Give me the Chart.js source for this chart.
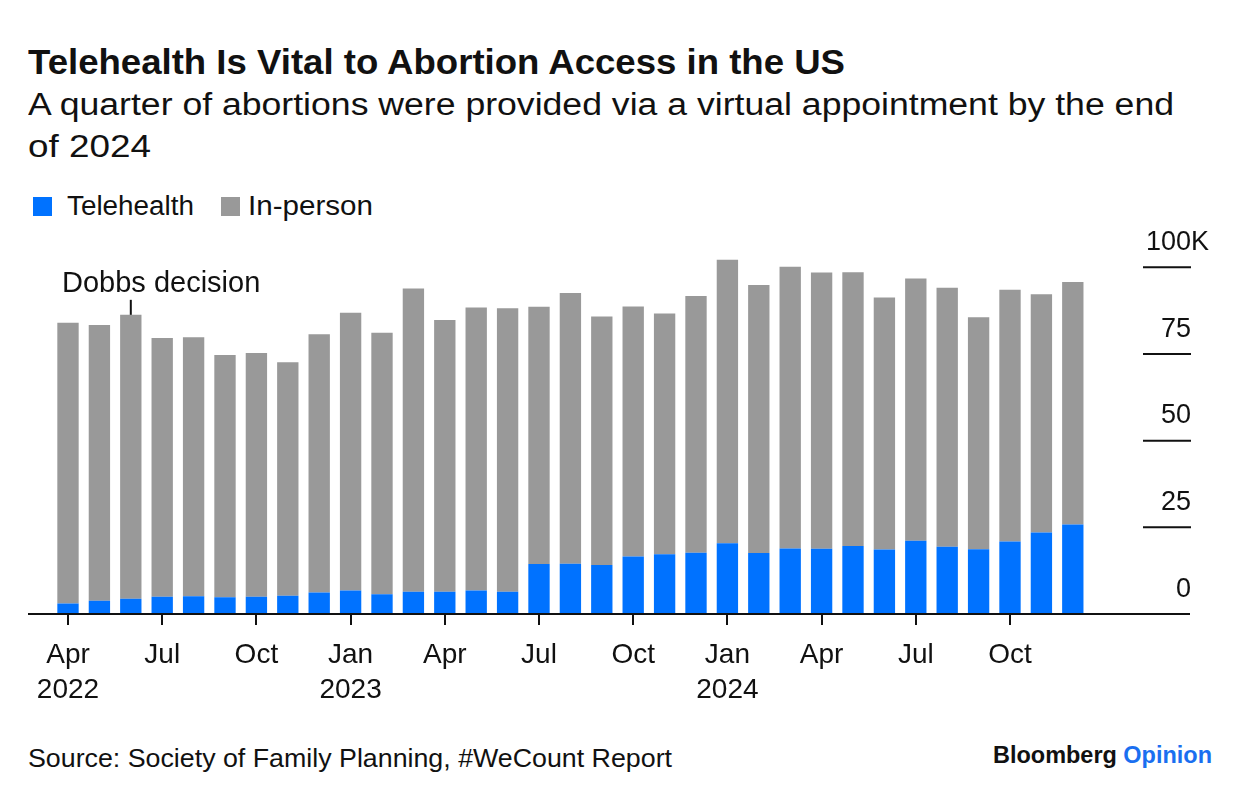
<!DOCTYPE html>
<html>
<head>
<meta charset="utf-8">
<script src="https://cdn.jsdelivr.net/npm/chart.js@4.4.1/dist/chart.umd.min.js"></script>
<style>
  html, body { margin: 0; padding: 0; background: #fff; }
  body { width: 1240px; height: 800px; position: relative; overflow: hidden;
         font-family: "Liberation Sans", Arial, sans-serif; color: #111; }
  .t { position: absolute; white-space: nowrap; transform-origin: 0 0; display: inline-block; }
  #title { left: 28px; top: 44px; font-size: 35px; line-height: 35px; font-weight: bold; }
  .sub { left: 28px; font-size: 31px; line-height: 42px; }
  .leg { top: 193px; font-size: 27px; line-height: 27px; }
  .sq { position: absolute; top: 197px; width: 19px; height: 19px; }
  #source { left: 28px; top: 745px; font-size: 26px; line-height: 26px; }
  #brand { left: 993px; top: 744px; font-size: 23px; line-height: 23px; font-weight: bold; }
  #brand span { color: #1a6ff0; }
  #wrap { position: absolute; left: 0; top: 230px; width: 1240px; height: 490px; }
</style>
</head>
<body>
<div id="title" class="t" data-w="817">Telehealth Is Vital to Abortion Access in the US</div>
<div class="t sub" style="top:84px" data-w="1146">A quarter of abortions were provided via a virtual appointment by the end</div>
<div class="t sub" style="top:126px" data-w="123">of 2024</div>

<div class="sq" style="left:33px;background:#0072ff"></div>
<div class="t leg" style="left:67px" data-w="127">Telehealth</div>
<div class="sq" style="left:221px;background:#999"></div>
<div class="t leg" style="left:248px" data-w="125">In-person</div>

<div id="wrap"><canvas id="chart"></canvas></div>

<div id="source" class="t" data-w="644">Source: Society of Family Planning, #WeCount Report</div>
<div id="brand" class="t" data-w="219">Bloomberg <span>Opinion</span></div>

<script>
// monthly abortions, thousands
const months = [
  'Apr 2022', 'May 2022', 'Jun 2022', 'Jul 2022', 'Aug 2022', 'Sep 2022', 'Oct 2022', 'Nov 2022', 'Dec 2022',
  'Jan 2023', 'Feb 2023', 'Mar 2023', 'Apr 2023', 'May 2023', 'Jun 2023', 'Jul 2023', 'Aug 2023', 'Sep 2023',
  'Oct 2023', 'Nov 2023', 'Dec 2023',
  'Jan 2024', 'Feb 2024', 'Mar 2024', 'Apr 2024', 'May 2024', 'Jun 2024', 'Jul 2024', 'Aug 2024', 'Sep 2024',
  'Oct 2024', 'Nov 2024', 'Dec 2024'
];
const telehealth = [3.0, 3.8, 4.4, 5.0, 5.1, 4.8, 5.0, 5.3, 6.2, 6.8, 5.7, 6.4, 6.4, 6.8, 6.4, 14.4, 14.5,
  14.1, 16.6, 17.2, 17.7, 20.4, 17.6, 18.9, 18.8, 19.6, 18.6, 21.1, 19.4, 18.7, 20.9, 23.5, 25.8];
const inPerson = [81.0, 79.6, 81.9, 74.6, 74.7, 69.9, 70.3, 67.3, 74.5, 80.1, 75.4, 87.5, 78.4, 81.6, 81.8,
  74.2, 78.1, 71.7, 72.1, 69.5, 74.0, 81.8, 77.3, 81.3, 79.7, 79.0, 72.7, 75.7, 74.7, 66.9, 72.6, 68.7, 70.0];
const yTicks = [0, 25, 50, 75, 100];
const yTickLabels = ['0', '25', '50', '75', '100K'];
const tickMonths = ['Jan', 'Apr', 'Jul', 'Oct'];
const dobbsMonth = 'Jun 2022';
const dobbsLabel = 'Dobbs decision';

// squeeze html text to the measured widths
document.querySelectorAll('[data-w]').forEach(el => {
  const w = el.getBoundingClientRect().width;
  el.style.transform = 'scaleX(' + (el.dataset.w / w) + ')';
});

const FONT = '"Liberation Sans", Arial, sans-serif';

const decor = {
  id: 'decor',
  afterDraw(chart) {
    const { ctx, scales: { x, y } } = chart;
    const y0 = y.getPixelForValue(0);
    ctx.save();
    ctx.strokeStyle = '#111';
    ctx.lineWidth = 2;
    ctx.beginPath();
    ctx.moveTo(28, y0);
    ctx.lineTo(1190, y0);
    ctx.stroke();

    // value axis: short rules with the number sitting above, unit hanging past the edge
    ctx.font = '27px ' + FONT;
    ctx.fillStyle = '#111';
    ctx.textBaseline = 'alphabetic';
    yTicks.forEach((v, i) => {
      const py = y.getPixelForValue(v);
      if (v > 0) {
        ctx.beginPath();
        ctx.moveTo(1143, py);
        ctx.lineTo(1191, py);
        ctx.stroke();
      }
      const [, num, unit] = yTickLabels[i].match(/^(\d+)(\D*)$/);
      ctx.textAlign = 'right';
      ctx.fillText(num, 1191, py - 17.5);
      if (unit) {
        ctx.textAlign = 'left';
        ctx.fillText(unit, 1191, py - 17.5);
      }
    });

    // Dobbs annotation
    const di = months.indexOf(dobbsMonth);
    const dx = x.getPixelForValue(di);
    const top = y.getPixelForValue(telehealth[di] + inPerson[di]);
    ctx.font = '29px ' + FONT;
    ctx.textAlign = 'left';
    ctx.fillText(dobbsLabel, 62, top - 23);
    ctx.beginPath();
    ctx.moveTo(dx, top - 15);
    ctx.lineTo(dx, top);
    ctx.stroke();
    ctx.restore();
  }
};

new Chart(document.getElementById('chart'), {
  type: 'bar',
  data: {
    labels: months,
    datasets: [
      { label: 'Telehealth', data: telehealth, backgroundColor: '#0072ff' },
      { label: 'In-person', data: inPerson, backgroundColor: '#999999' }
    ]
  },
  options: {
    responsive: true,
    maintainAspectRatio: false,
    animation: false,
    layout: { padding: { left: 52.3, right: 151.5, top: 20, bottom: 0 } },
    datasets: { bar: { categoryPercentage: 1, barPercentage: 0.68, borderWidth: 0 } },
    plugins: { legend: { display: false }, tooltip: { enabled: false } },
    scales: {
      x: {
        stacked: true,
        afterFit: s => { s.height = 106; },
        afterBuildTicks: s => {
          s.ticks = s.ticks.filter(t => tickMonths.includes(months[t.value].slice(0, 3)));
        },
        grid: { display: true, drawOnChartArea: false, offset: false, tickLength: 11, lineWidth: 2, color: '#111' },
        border: { display: false },
        ticks: {
          autoSkip: false,
          maxRotation: 0,
          padding: 12,
          color: '#111',
          font: { family: FONT, size: 28, lineHeight: 1.275 },
          callback: function (value) {
            const [m, yr] = months[value].split(' ');
            return (value === 0 || m === 'Jan') ? [m, yr] : m;
          }
        }
      },
      y: {
        stacked: true,
        display: false,
        min: 0,
        max: 105
      }
    }
  },
  plugins: [decor]
});
</script>
</body>
</html>
